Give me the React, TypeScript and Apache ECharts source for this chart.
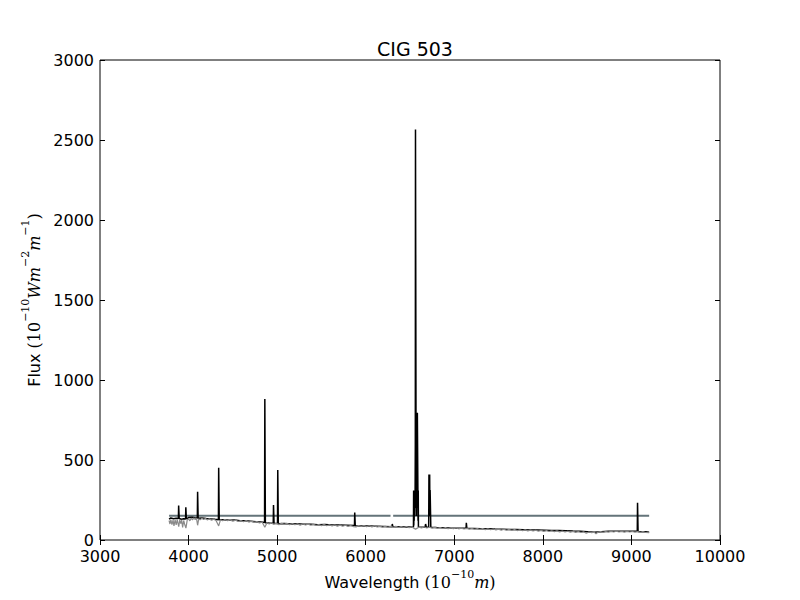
import React, { useEffect, useRef } from "react";
import * as echarts from "echarts";

const titleText = "CIG 503";
const xTicks = { min: 3000, max: 10000, interval: 1000 };
const yTicks = { min: 0, max: 3000, interval: 500 };

// Observed spectrum (black) with emission lines: [wavelength, flux]
const observed: [number, number][] = [
  [3780, 130], [3800, 138], [3830, 133], [3860, 136], [3885, 134], [3888, 215], [3891, 215], [3894, 134],
  [3920, 130], [3945, 133], [3966, 131], [3969, 205], [3972, 205], [3975, 132], [4000, 140], [4040, 142],
  [4070, 139], [4099, 138], [4102, 302], [4105, 302], [4108, 136], [4150, 137], [4200, 134], [4250, 132],
  [4300, 129], [4337, 127], [4340, 452], [4343, 452], [4346, 126], [4400, 127], [4460, 124], [4520, 125],
  [4580, 121], [4640, 120], [4700, 117], [4760, 114], [4820, 112], [4858, 109], [4861, 881], [4864, 881],
  [4867, 108], [4920, 105], [4956, 104], [4959, 219], [4962, 219], [4965, 104], [5004, 103], [5007, 437],
  [5010, 437], [5013, 102], [5080, 103], [5150, 100], [5220, 101], [5300, 98], [5380, 99], [5460, 96],
  [5540, 97], [5620, 94], [5700, 93], [5780, 92], [5873, 90], [5876, 171], [5879, 171], [5882, 89],
  [5960, 88], [6040, 87], [6120, 86], [6200, 85], [6297, 83], [6300, 100], [6303, 100], [6306, 83],
  [6380, 83], [6460, 82], [6539, 82], [6541, 310], [6543, 90], [6545, 310], [6547, 120], [6549, 310],
  [6551, 150], [6554, 310], [6557, 200], [6560, 600], [6562, 2565], [6565, 2565], [6568, 700], [6570, 300],
  [6572, 150], [6574, 310], [6577, 200], [6580, 400], [6583, 795], [6587, 795], [6589, 310], [6591, 120],
  [6593, 310], [6595, 82], [6670, 80], [6676, 100], [6680, 100], [6684, 80], [6711, 80], [6714, 410],
  [6718, 410], [6720, 150], [6722, 410], [6724, 200], [6727, 312], [6731, 312], [6735, 79], [6800, 78],
  [6880, 77], [6960, 75], [7040, 74], [7133, 73], [7136, 108], [7139, 108], [7142, 73], [7220, 72],
  [7300, 71], [7380, 70], [7460, 68], [7540, 67], [7620, 66], [7700, 65], [7780, 64], [7860, 63],
  [7940, 62], [8020, 61], [8100, 60], [8180, 59], [8260, 58], [8340, 56], [8420, 55], [8500, 52],
  [8580, 48], [8660, 52], [8740, 54], [8820, 55], [8900, 55], [8980, 54], [9066, 54], [9069, 233],
  [9072, 233], [9075, 53], [9120, 52], [9160, 51], [9200, 49],
];

// Model / stellar continuum (grey, noisy): [wavelength, flux]
const model: [number, number][] = [
  [3780, 122], [3790, 100], [3800, 128], [3812, 96], [3825, 124], [3835, 88], [3848, 126], [3860, 94],
  [3872, 128], [3889, 84], [3900, 124], [3912, 102], [3922, 126], [3933, 78], [3945, 122], [3955, 100],
  [3970, 74], [3985, 126], [4000, 132], [4015, 120], [4030, 136], [4045, 126], [4060, 138], [4075, 128],
  [4090, 134], [4102, 92], [4115, 134], [4130, 126], [4150, 136], [4170, 128], [4190, 134], [4210, 126],
  [4235, 132], [4260, 124], [4285, 130], [4310, 122], [4340, 88], [4360, 126], [4385, 120], [4410, 128],
  [4440, 120], [4470, 126], [4500, 118], [4530, 124], [4560, 116], [4590, 122], [4620, 114], [4650, 121],
  [4680, 112], [4710, 118], [4740, 110], [4770, 116], [4800, 106], [4830, 112], [4861, 80], [4885, 108],
  [4910, 100], [4935, 106], [4960, 98], [4990, 104], [5020, 96], [5050, 104], [5080, 98], [5110, 104],
  [5140, 95], [5170, 102], [5200, 96], [5230, 101], [5260, 93], [5290, 100], [5320, 94], [5350, 99],
  [5380, 92], [5410, 98], [5440, 91], [5470, 97], [5500, 90], [5530, 96], [5560, 89], [5590, 95],
  [5620, 88], [5650, 94], [5680, 87], [5710, 93], [5740, 86], [5770, 92], [5800, 85], [5830, 91],
  [5860, 84], [5890, 82], [5920, 90], [5950, 84], [5980, 90], [6010, 83], [6040, 89], [6070, 82],
  [6100, 88], [6130, 81], [6160, 87], [6190, 80], [6220, 86], [6250, 80], [6280, 85], [6310, 79],
  [6340, 85], [6370, 78], [6400, 84], [6430, 78], [6460, 84], [6490, 77], [6520, 82], [6563, 68],
  [6600, 80], [6630, 76], [6660, 81], [6690, 75], [6720, 80], [6750, 74], [6780, 79], [6810, 73],
  [6840, 78], [6870, 72], [6900, 77], [6930, 71], [6960, 76], [6990, 70], [7020, 75], [7050, 70],
  [7080, 74], [7110, 69], [7140, 73], [7170, 68], [7200, 72], [7230, 67], [7260, 72], [7290, 66],
  [7320, 71], [7350, 65], [7380, 70], [7410, 64], [7440, 69], [7470, 63], [7500, 68], [7530, 62],
  [7560, 67], [7590, 61], [7620, 66], [7650, 60], [7680, 65], [7710, 59], [7740, 64], [7770, 58],
  [7800, 63], [7830, 57], [7860, 62], [7890, 56], [7920, 61], [7950, 55], [7980, 60], [8010, 54],
  [8040, 59], [8070, 53], [8100, 58], [8130, 52], [8160, 57], [8190, 51], [8220, 56], [8250, 50],
  [8280, 55], [8310, 49], [8340, 54], [8370, 48], [8400, 52], [8430, 47], [8460, 51], [8490, 42],
  [8520, 50], [8550, 46], [8580, 49], [8600, 38], [8620, 48], [8650, 52], [8680, 48], [8710, 53],
  [8740, 49], [8770, 54], [8800, 50], [8830, 55], [8860, 50], [8890, 54], [8920, 49], [8950, 54],
  [8980, 50], [9010, 53], [9040, 49], [9070, 52], [9100, 48], [9130, 52], [9160, 47], [9200, 46],
];

// Constant level line (with a small gap)
const levelLine: [number, number | string][] = [
  [3780, 152], [6280, 152], [6295, "-"], [6310, 152], [9200, 152],
];

const serif = "'DejaVu Serif', serif";
const sans = "'DejaVu Sans', sans-serif";

const nameRich = {
  n: { fontFamily: sans, fontSize: 16, color: "#000", lineHeight: 22, verticalAlign: "bottom" },
  m: { fontFamily: serif, fontSize: 16, color: "#000", lineHeight: 22, verticalAlign: "bottom" },
  it: { fontFamily: serif, fontStyle: "italic", fontSize: 16, color: "#000", lineHeight: 22, verticalAlign: "bottom" },
  supn: { fontFamily: serif, fontSize: 11, color: "#000", lineHeight: 22, verticalAlign: "top" },
};

export default function App() {
  const ref = useRef<HTMLDivElement>(null);
  useEffect(() => {
    if (!ref.current) return;
    const chart = echarts.init(ref.current, undefined, { renderer: "svg" });
    const tickStyle = { show: true, inside: true, length: 5, lineStyle: { color: "#000", width: 1 } };
    const fmt = (v: number) => String(v);
    chart.setOption({
      animation: false,
      backgroundColor: "#fff",
      title: {
        text: titleText,
        left: 410,
        top: 34,
        textAlign: "center",
        textStyle: { fontFamily: sans, fontSize: 19, fontWeight: "normal", color: "#000" },
      },
      grid: {
        left: 100, right: 80, top: 60, bottom: 60,
        show: true, borderColor: "#000", borderWidth: 1, backgroundColor: "transparent",
      },
      xAxis: [
        {
          type: "value", ...xTicks, position: "bottom",
          axisLine: { show: false }, splitLine: { show: false }, axisTick: tickStyle,
          axisLabel: { color: "#000", fontFamily: sans, fontSize: 16, margin: 8, formatter: fmt },
          name: "{n|Wavelength }{m|(10}{supn|\u221210}{it|m}{m|)}",
          nameLocation: "middle", nameGap: 26,
          nameTextStyle: { rich: nameRich },
        },
        {
          type: "value", ...xTicks, position: "top",
          axisLine: { show: false }, splitLine: { show: false }, axisTick: tickStyle,
          axisLabel: { show: false },
        },
      ],
      yAxis: [
        {
          type: "value", ...yTicks, position: "left",
          axisLine: { show: false }, splitLine: { show: false }, axisTick: tickStyle,
          axisLabel: { color: "#000", fontFamily: sans, fontSize: 16, margin: 6, formatter: fmt },
          name: "{n|Flux }{m|(10}{supn|\u221210}{it|Wm}{supn|\u22122}{it|m}{supn|\u22121}{m|)}",
          nameLocation: "middle", nameGap: 50, nameRotate: 90,
          nameTextStyle: { rich: nameRich },
        },
        {
          type: "value", ...yTicks, position: "right",
          axisLine: { show: false }, splitLine: { show: false }, axisTick: tickStyle,
          axisLabel: { show: false },
        },
      ],
      series: [
        {
          type: "line", data: levelLine, showSymbol: false, symbol: "none", connectNulls: false,
          lineStyle: { color: "#64747a", width: 2 }, z: 1,
        },
        {
          type: "line", data: observed, showSymbol: false, symbol: "none",
          lineStyle: { color: "#000", width: 1.5 }, z: 2,
        },
        {
          type: "line", data: model, showSymbol: false, symbol: "none",
          lineStyle: { color: "#8a8a8a", width: 1.2 }, z: 3,
        },
      ],
    });
    return () => chart.dispose();
  }, []);
  return (
    <div
      ref={ref}
      style={{ position: "absolute", left: 0, top: 0, width: 800, height: 600, background: "#fff" }}
    />
  );
}
